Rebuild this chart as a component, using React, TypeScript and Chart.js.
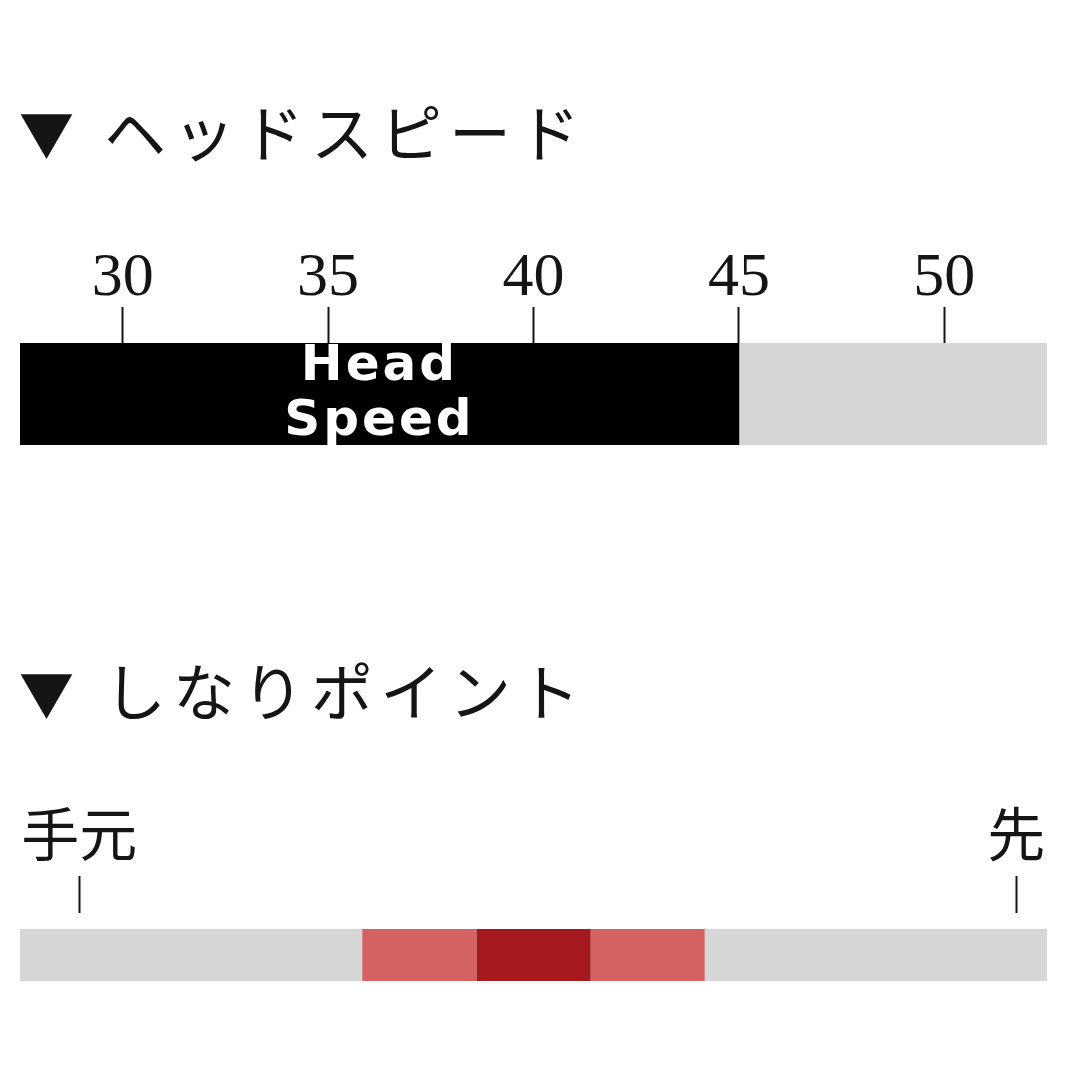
import React, { useEffect, useRef } from 'react';
import { Chart, registerables } from 'chart.js';

Chart.register(...registerables);

// ---- Head speed chart data ----
const speedTicks = [30, 35, 40, 45, 50];
const speedMin = 27.5;
const speedMax = 52.5;
const headSpeed = 45;
const speedLabel = ['Head', 'Speed'];

// ---- Flex point chart data ----
const flexTickValues = [0.52, 8.73];
const flexTickLabels = ['手元', '先'];
const flexMin = 0;
const flexMax = 9;
const flexStart = [3, 4, 5];
const flexEnd = [4, 5, 6];
const flexLevel = [1, 2, 1];

const titles = ['ヘッドスピード', 'しなりポイント'];

const GRAY = '#d6d6d6';
const levelColors = ['#d6d6d6', '#d46262', '#a5191f'];
const INK = '#151515';

const headSpeedLabelPlugin = {
  id: 'headSpeedLabel',
  afterDatasetsDraw(chart: any) {
    const el = chart.getDatasetMeta(0).data[0];
    if (!el) return;
    const { x, y, base } = el.getProps(['x', 'y', 'base'], true);
    const cx = (x + base) / 2;
    const ctx = chart.ctx;
    ctx.save();
    ctx.fillStyle = '#ffffff';
    ctx.font = 'bold 50px "DejaVu Sans"';
    ctx.textAlign = 'center';
    ctx.textBaseline = 'alphabetic';
    try { (ctx as any).letterSpacing = '3px'; } catch (e) {}
    ctx.fillText(speedLabel[0], cx, y - 14);
    ctx.fillText(speedLabel[1], cx, y + 41);
    ctx.restore();
  },
};

export default function App() {
  const speedRef = useRef<HTMLCanvasElement>(null);
  const flexRef = useRef<HTMLCanvasElement>(null);

  useEffect(() => {
    document.body.style.margin = '0';
    const speedChart = new Chart(speedRef.current as HTMLCanvasElement, {
      type: 'bar',
      data: {
        labels: [''],
        datasets: [
          {
            data: [[speedMin, headSpeed]] as any,
            backgroundColor: '#000000',
            grouped: false,
            barPercentage: 1,
            categoryPercentage: 1,
            borderWidth: 0,
          } as any,
          {
            data: [[headSpeed, speedMax]] as any,
            backgroundColor: GRAY,
            grouped: false,
            barPercentage: 1,
            categoryPercentage: 1,
            borderWidth: 0,
          } as any,
        ],
      },
      options: {
        indexAxis: 'y',
        animation: false,
        responsive: false,
        maintainAspectRatio: false,
        layout: { padding: { left: 20, right: 33, top: 0, bottom: 5 } },
        plugins: { legend: { display: false }, tooltip: { enabled: false } },
        scales: {
          x: {
            type: 'linear',
            position: 'top',
            min: speedMin,
            max: speedMax,
            afterBuildTicks: (s: any) => {
              s.ticks = speedTicks.map((v) => ({ value: v }));
            },
            afterFit: (s: any) => {
              s.height = 143;
            },
            grid: {
              display: true,
              drawOnChartArea: false,
              drawTicks: true,
              tickLength: 36,
              tickColor: INK,
              tickWidth: 2,
            },
            border: { display: false },
            ticks: {
              autoSkip: false,
              maxRotation: 0,
              padding: -3,
              color: INK,
              font: { family: '"Liberation Serif"', size: 62, lineHeight: 1 },
              callback: (v: any) => String(v),
            },
          },
          y: { display: false },
        },
      } as any,
      plugins: [headSpeedLabelPlugin],
    });

    // red zones first (drawn on top), gray background last (drawn underneath)
    const flexDatasets: any[] = flexStart.map((s, i) => ({
      data: [[s, flexEnd[i]]],
      backgroundColor: levelColors[flexLevel[i]],
      grouped: false,
      barPercentage: 0.62,
      categoryPercentage: 1,
      borderWidth: 0,
    }));
    flexDatasets.push({
      data: [[flexMin, flexMax]],
      backgroundColor: GRAY,
      grouped: false,
      barPercentage: 0.62,
      categoryPercentage: 1,
      borderWidth: 0,
    });

    const flexChart = new Chart(flexRef.current as HTMLCanvasElement, {
      type: 'bar',
      data: { labels: [''], datasets: flexDatasets },
      options: {
        indexAxis: 'y',
        animation: false,
        responsive: false,
        maintainAspectRatio: false,
        layout: { padding: { left: 20, right: 33, top: 0, bottom: 3 } },
        plugins: { legend: { display: false }, tooltip: { enabled: false } },
        scales: {
          x: {
            type: 'linear',
            position: 'top',
            min: flexMin,
            max: flexMax,
            afterBuildTicks: (s: any) => {
              s.ticks = flexTickValues.map((v) => ({ value: v }));
            },
            afterFit: (s: any) => {
              s.height = 133;
            },
            grid: {
              display: true,
              drawOnChartArea: false,
              drawTicks: true,
              tickLength: 37,
              tickColor: INK,
              tickWidth: 2,
            },
            border: { display: false },
            ticks: {
              autoSkip: false,
              maxRotation: 0,
              padding: 13,
              color: INK,
              font: { family: '"Noto Sans CJK JP"', size: 58, lineHeight: 1 },
              callback: (_v: any, i: number) => flexTickLabels[i],
            },
          },
          y: { display: false },
        },
      } as any,
    });

    return () => {
      speedChart.destroy();
      flexChart.destroy();
    };
  }, []);

  const markStyle = (top: number): React.CSSProperties => ({
    position: 'absolute',
    left: 19,
    top,
    fontFamily: '"Noto Sans CJK JP"',
    fontSize: 55,
    lineHeight: '55px',
    color: INK,
    whiteSpace: 'nowrap',
  });
  const titleStyle = (top: number): React.CSSProperties => ({
    position: 'absolute',
    left: 104,
    top,
    fontFamily: '"Noto Sans CJK JP"',
    fontSize: 62,
    lineHeight: '62px',
    letterSpacing: 7,
    color: INK,
    whiteSpace: 'nowrap',
  });

  return (
    <div style={{ position: 'absolute', left: 0, top: 0, width: 1080, height: 1080, background: '#ffffff', overflow: 'hidden' }}>
      <div style={markStyle(104)}>▼</div>
      <div style={titleStyle(99)}>{titles[0]}</div>
      <canvas
        ref={speedRef}
        width={1080}
        height={250}
        style={{ position: 'absolute', left: 0, top: 200, width: 1080, height: 250 }}
      />
      <div style={markStyle(664)}>▼</div>
      <div style={titleStyle(658)}>{titles[1]}</div>
      <canvas
        ref={flexRef}
        width={1080}
        height={220}
        style={{ position: 'absolute', left: 0, top: 780, width: 1080, height: 220 }}
      />
    </div>
  );
}
